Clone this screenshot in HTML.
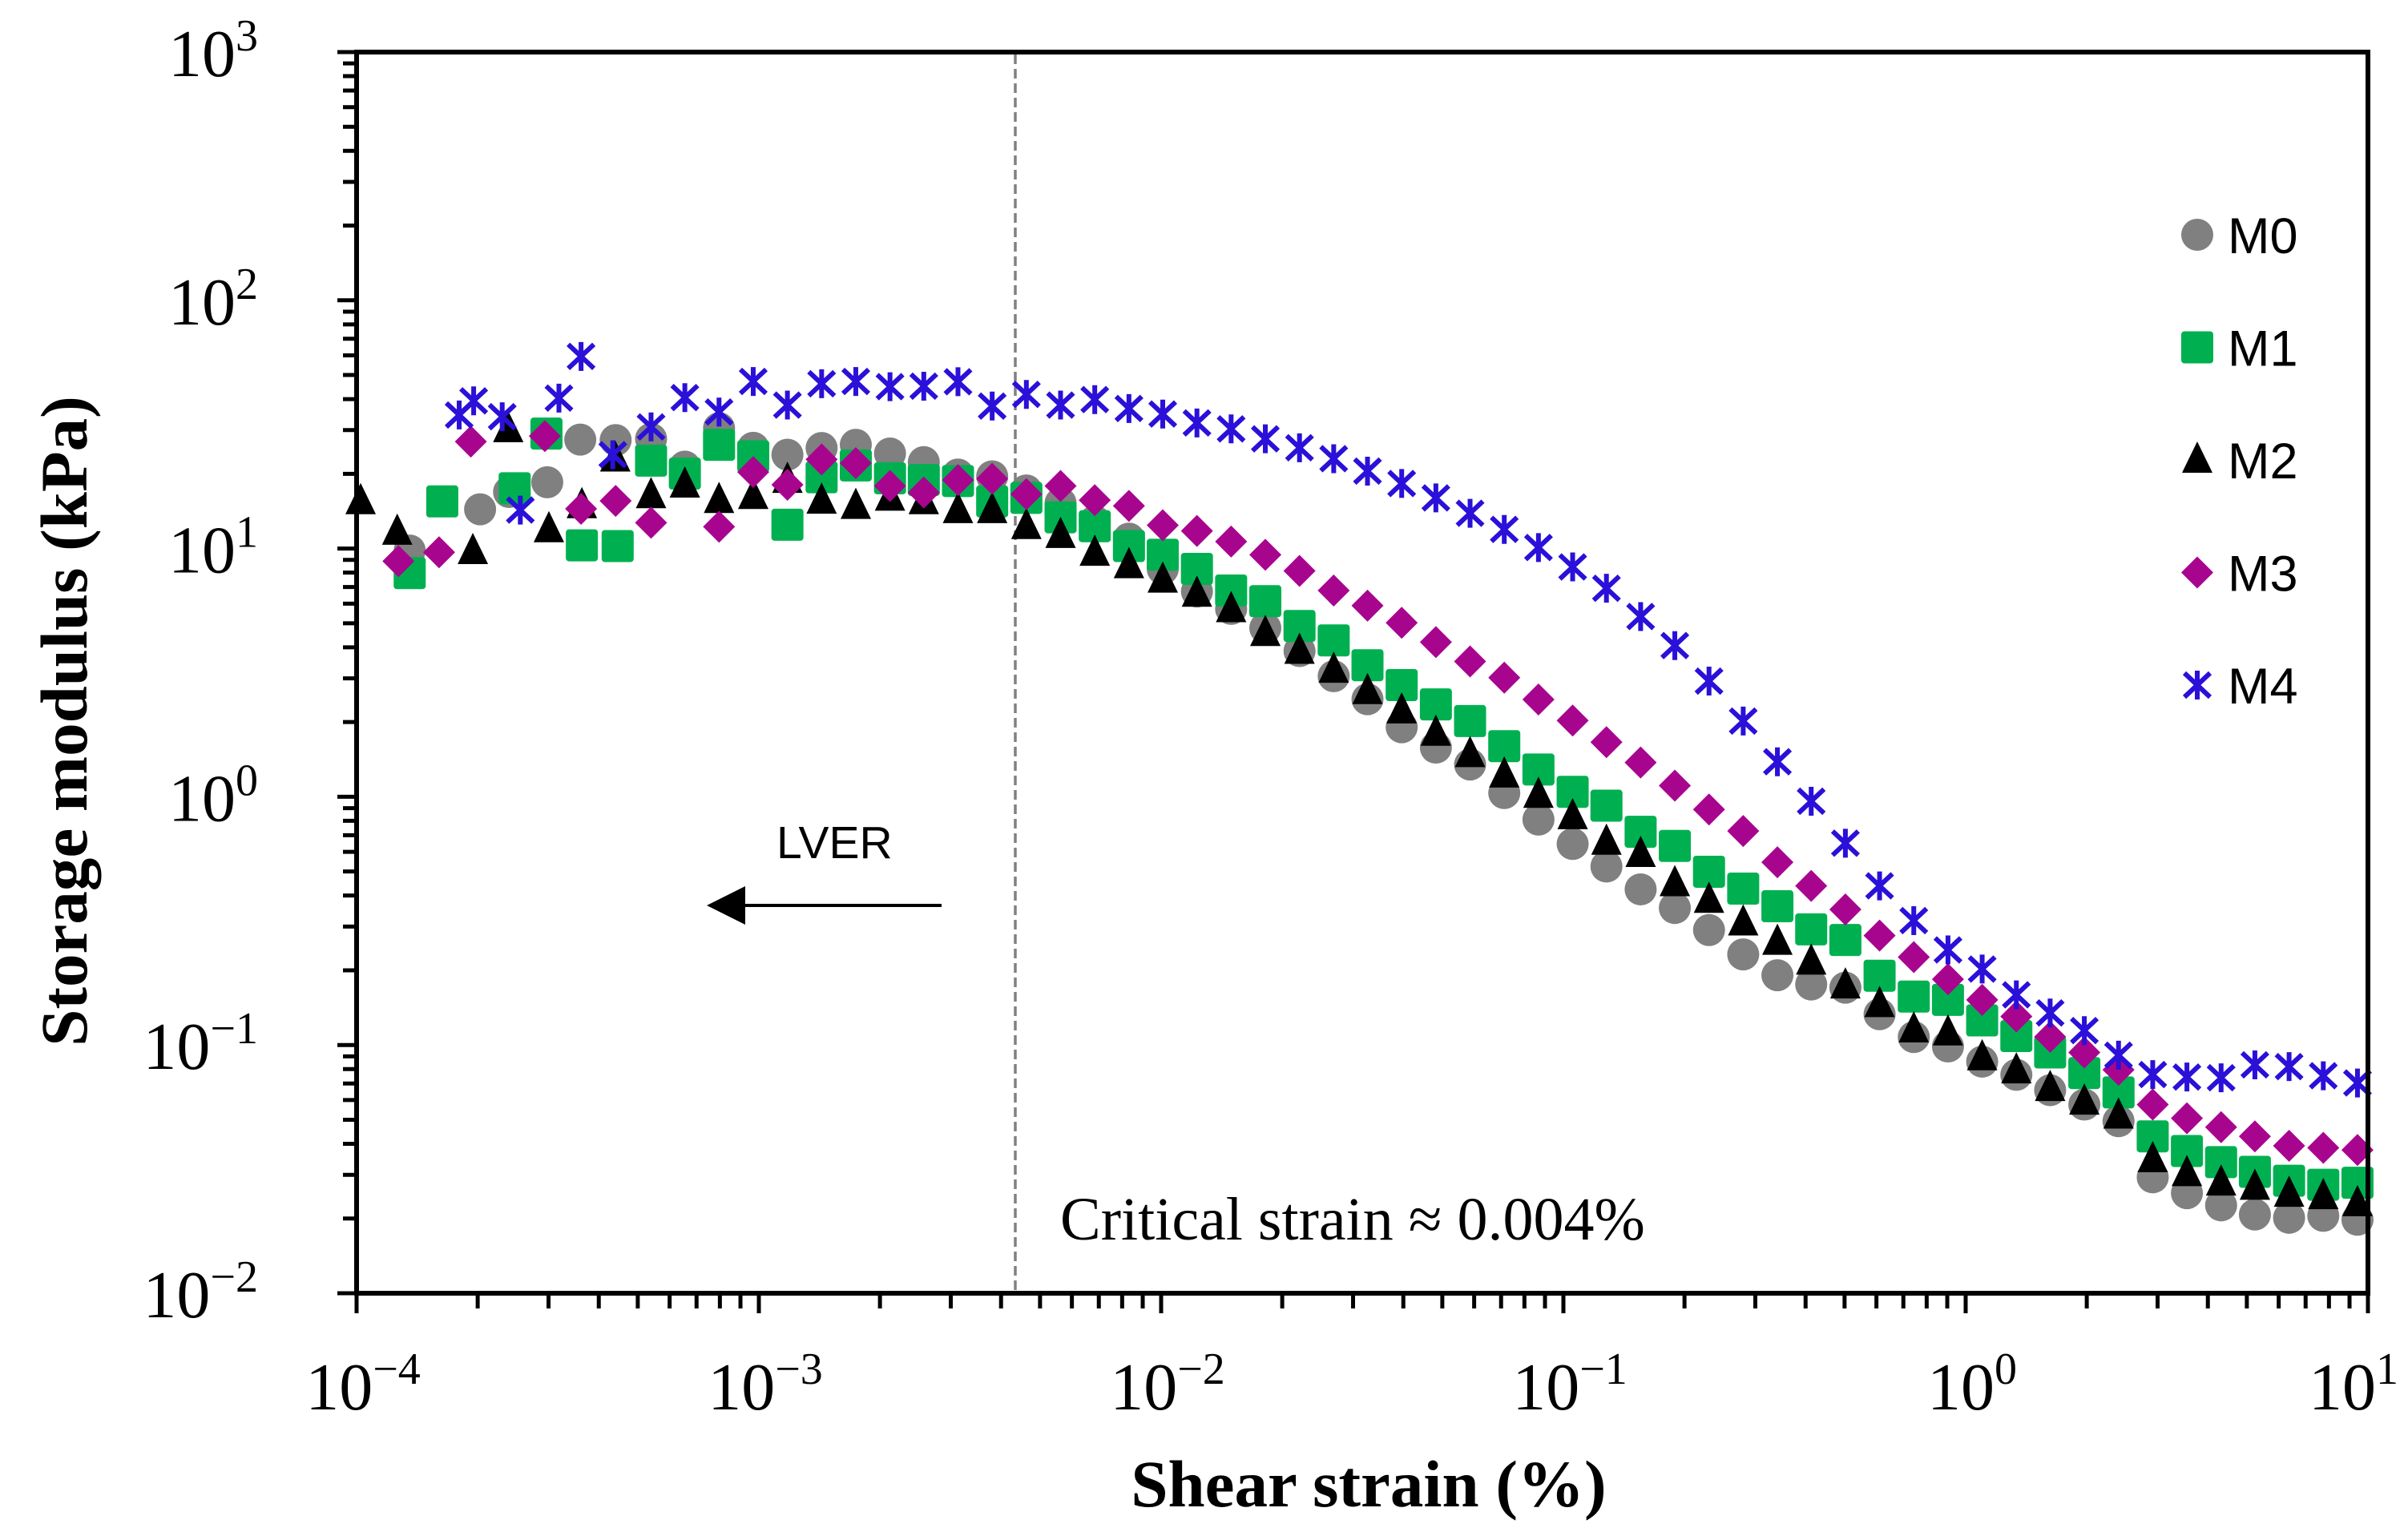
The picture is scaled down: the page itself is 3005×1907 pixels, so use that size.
<!DOCTYPE html>
<html><head><meta charset="utf-8"><style>
html,body{margin:0;padding:0;background:#fff;}
svg{display:block;}
</style></head><body>
<svg id="chart" width="3005" height="1907" viewBox="0 0 3005 1907" xmlns="http://www.w3.org/2000/svg">
<rect x="0" y="0" width="3005" height="1907" fill="#fff"/>
<g id="ticks"></g>
<line x1="1267" y1="68" x2="1267" y2="1611" stroke="#808080" stroke-width="3.5" stroke-dasharray="12,6"/>
<g id="marks"></g>
<rect x="445" y="65" width="2510" height="1549" fill="none" stroke="#000" stroke-width="6"/>
<g id="labels" font-family="'Liberation Serif', serif" fill="#000"></g>
<text x="1708" y="1880" text-anchor="middle" font-family="'Liberation Serif', serif" font-weight="bold" font-size="83">Shear strain (%)</text>
<text transform="translate(108,900) rotate(-90)" text-anchor="middle" font-family="'Liberation Serif', serif" font-weight="bold" font-size="83">Storage modulus (kPa)</text>
<text x="1323" y="1547" font-family="'Liberation Serif', serif" font-size="76">Critical strain ≈ 0.004%</text>
<text x="969" y="1071" font-family="'Liberation Sans', sans-serif" font-size="57">LVER</text>
<g>
<line x1="1175" y1="1130" x2="925" y2="1130" stroke="#000" stroke-width="4"/>
<polygon points="882,1130 930,1106 930,1154" fill="#000"/>
</g>
<g id="legend" font-family="'Liberation Sans', sans-serif" font-size="63"></g>
</svg>
<script>
// log10 of shear strain (%) on the common measurement grid (points 9..59)
const gridStrainLog = [-3.268,-3.184,-3.099,-3.014,-2.929,-2.844,-2.759,-2.674,-2.590,-2.505,-2.420,-2.335,-2.250,-2.165,-2.080,-1.996,-1.911,-1.826,-1.741,-1.656,-1.571,-1.487,-1.402,-1.317,-1.232,-1.147,-1.062,-0.977,-0.893,-0.808,-0.723,-0.638,-0.553,-0.468,-0.384,-0.299,-0.214,-0.129,-0.044,0.041,0.126,0.210,0.295,0.380,0.465,0.550,0.635,0.719,0.804,0.889,0.974];
// log10 of storage modulus (kPa) on the grid
const m0ModLog = [1.442,1.330,1.485,1.406,1.378,1.405,1.418,1.383,1.348,1.298,1.291,1.234,1.183,1.110,1.040,0.918,0.827,0.757,0.680,0.587,0.486,0.393,0.280,0.198,0.130,0.015,-0.092,-0.190,-0.281,-0.373,-0.448,-0.537,-0.635,-0.719,-0.756,-0.769,-0.876,-0.968,-1.006,-1.067,-1.120,-1.182,-1.240,-1.307,-1.533,-1.597,-1.646,-1.683,-1.696,-1.688,-1.704];
const m1ModLog = [1.354,1.302,1.418,1.372,1.096,1.287,1.335,1.283,1.276,1.272,1.190,1.204,1.126,1.090,1.010,0.975,0.918,0.831,0.788,0.688,0.630,0.530,0.450,0.372,0.305,0.204,0.110,0.020,-0.036,-0.141,-0.198,-0.302,-0.370,-0.441,-0.534,-0.577,-0.721,-0.805,-0.818,-0.901,-0.964,-1.030,-1.113,-1.191,-1.368,-1.427,-1.472,-1.511,-1.547,-1.563,-1.555];
const m2ModLog = [1.214,1.257,1.195,1.211,1.276,1.192,1.171,1.204,1.190,1.154,1.154,1.090,1.054,0.982,0.932,0.874,0.817,0.755,0.659,0.587,0.511,0.425,0.347,0.257,0.171,0.089,0.007,-0.079,-0.182,-0.231,-0.349,-0.416,-0.507,-0.585,-0.665,-0.761,-0.836,-0.938,-0.950,-1.050,-1.103,-1.174,-1.229,-1.285,-1.461,-1.517,-1.555,-1.572,-1.600,-1.610,-1.638];
const m3ModLog = [1.104,null,1.088,1.308,1.257,1.359,1.344,1.252,1.226,1.276,1.281,1.219,1.252,1.195,1.172,1.094,1.071,1.028,0.975,0.910,0.831,0.770,0.701,0.623,0.545,0.480,0.392,0.307,0.220,0.138,0.045,-0.051,-0.138,-0.264,-0.359,-0.454,-0.559,-0.646,-0.735,-0.818,-0.885,-0.967,-1.030,-1.100,-1.240,-1.295,-1.331,-1.368,-1.406,-1.414,-1.423];
const m4ModLog = [1.490,1.608,1.550,1.673,1.578,1.664,1.673,1.652,1.654,1.672,1.574,1.621,1.578,1.600,1.564,1.542,1.506,1.482,1.442,1.406,1.362,1.312,1.262,1.204,1.142,1.077,1.004,0.926,0.840,0.726,0.609,0.466,0.305,0.141,-0.018,-0.187,-0.359,-0.499,-0.617,-0.694,-0.798,-0.871,-0.942,-1.041,-1.119,-1.129,-1.132,-1.080,-1.087,-1.124,-1.153];
// low-strain points (irregular strains), log10 values
const m0LowStrainLog = [-3.868,-3.693,-3.621,-3.526,-3.444,-3.356];
const m0LowModLog = [0.992,1.158,1.228,1.267,1.439,1.437];
const m1LowStrainLog = [-3.868,-3.787,-3.607,-3.528,-3.440,-3.351];
const m1LowModLog = [0.901,1.190,1.243,1.463,1.013,1.010];
const m2LowStrainLog = [-3.990,-3.899,-3.711,-3.623,-3.522,-3.440,-3.357];
const m2LowModLog = [1.190,1.067,0.989,1.480,1.077,1.174,1.362];
const m3LowStrainLog = [-3.896,-3.795,-3.716,-3.532,-3.442,-3.356];
const m3LowModLog = [0.949,0.985,1.431,1.453,1.160,1.192];
const m4LowStrainLog = [-3.745,-3.709,-3.638,-3.593,-3.497,-3.442,-3.363];
const m4LowModLog = [1.538,1.595,1.531,1.155,1.606,1.774,1.378];
const seriesNames = ["M0","M1","M2","M3","M4"];
const xTickExps = [-4,-3,-2,-1,0,1];
const yTickExps = [3,2,1,0,-1,-2];

const NS = "http://www.w3.org/2000/svg";
const X = l => 445 + (l + 4) * 502;
const Y = l => 65 + (3 - l) * 309.8;
function mk(tag, attrs, parent){ const e=document.createElementNS(NS,tag); for(const k in attrs) e.setAttribute(k,attrs[k]); parent.appendChild(e); return e; }

const styles = {
  M0:{color:"#808080", shape:"circle"},
  M1:{color:"#00B050", shape:"square"},
  M2:{color:"#000000", shape:"triangle"},
  M3:{color:"#A8058F", shape:"diamond"},
  M4:{color:"#2A10D8", shape:"star"}
};
function marker(shape,color,cx,cy,parent){
  let e;
  if(shape==="circle") e=mk("ellipse",{cx:cx,cy:cy,rx:20,ry:20,fill:color},parent);
  else if(shape==="square") e=mk("rect",{x:cx-20,y:cy-20,width:40,height:40,rx:4,fill:color},parent);
  else if(shape==="triangle") e=mk("polygon",{points:`${cx},${cy-23} ${cx+19},${cy+16} ${cx-19},${cy+16}`,fill:color},parent);
  else if(shape==="diamond") e=mk("polygon",{points:`${cx},${cy-20} ${cx+20},${cy} ${cx},${cy+20} ${cx-20},${cy}`,fill:color},parent);
  else { e=mk("path",{d:`M${cx-16},${cy-15}L${cx+16},${cy+15}M${cx+16},${cy-15}L${cx-16},${cy+15}M${cx},${cy-18}L${cx},${cy+18}`,stroke:color,"stroke-width":6,fill:"none"},parent); }
  return e;
}

// ticks
const tg=document.getElementById("ticks");
for(let d=-4; d<=1; d++){
  for(let m=1; m<=9; m++){
    if(d===1 && m>1) break;
    const x=X(d+Math.log10(m));
    const t=mk("line",{x1:x,y1:1614,x2:x,y2:m===1?1639:1633,stroke:"#000","stroke-width":5},tg);
    
    
  }
}
for(let d=-2; d<=3; d++){
  for(let m=1; m<=9; m++){
    if(d===3 && m>1) break;
    const y=Y(d+Math.log10(m));
    const t=mk("line",{x1:445,y1:y,x2:m===1?421:428,y2:y,stroke:"#000","stroke-width":5},tg);
    
    
  }
}
// tick labels
const lg=document.getElementById("labels");
function expLabel(x,y,exp,anchor,parent){
  const t=mk("text",{x:x,y:y,"text-anchor":anchor,"font-size":84},parent);
  t.appendChild(document.createTextNode("10"));
  const s=document.createElementNS(NS,"tspan");
  s.setAttribute("font-size","56"); s.setAttribute("dy","-32");
  s.textContent = exp<0 ? "\u2212"+(-exp) : String(exp);
  t.appendChild(s);
  return t;
}
xTickExps.forEach(e=>{
  const t=expLabel(Math.min(X(e)+8, 2937),1759,e,"middle",lg);
  
  
});
yTickExps.forEach(e=>{
  const t=expLabel(322,Y(e)+30,e,"end",lg);
  
  
});

// series
const mg=document.getElementById("marks");
const seriesData = {
  M0:{lowX:m0LowStrainLog, lowY:m0LowModLog, hi:m0ModLog},
  M1:{lowX:m1LowStrainLog, lowY:m1LowModLog, hi:m1ModLog},
  M2:{lowX:m2LowStrainLog, lowY:m2LowModLog, hi:m2ModLog},
  M3:{lowX:m3LowStrainLog, lowY:m3LowModLog, hi:m3ModLog},
  M4:{lowX:m4LowStrainLog, lowY:m4LowModLog, hi:m4ModLog}
};
seriesNames.forEach(name=>{
  const st=styles[name], sd=seriesData[name];
  const g=mk("g",{},mg);
  
  
  sd.lowX.forEach((lx,i)=>{
    const p=marker(st.shape,st.color,X(lx),Y(sd.lowY[i]),g);
    
    
  });
  sd.hi.forEach((v,i)=>{
    if(v===null) return;
    const p=marker(st.shape,st.color,X(gridStrainLog[i]),Y(v),g);
    
    
  });
});

// legend
const leg=document.getElementById("legend");
seriesNames.forEach((name,i)=>{
  const y=293+i*140.5;
  const g=mk("g",{},leg);
  
  
  marker(styles[name].shape,styles[name].color,2742,y,g);
  const t=mk("text",{x:2780,y:y+23},g);
  t.textContent=name;
});
</script>
</body></html>
